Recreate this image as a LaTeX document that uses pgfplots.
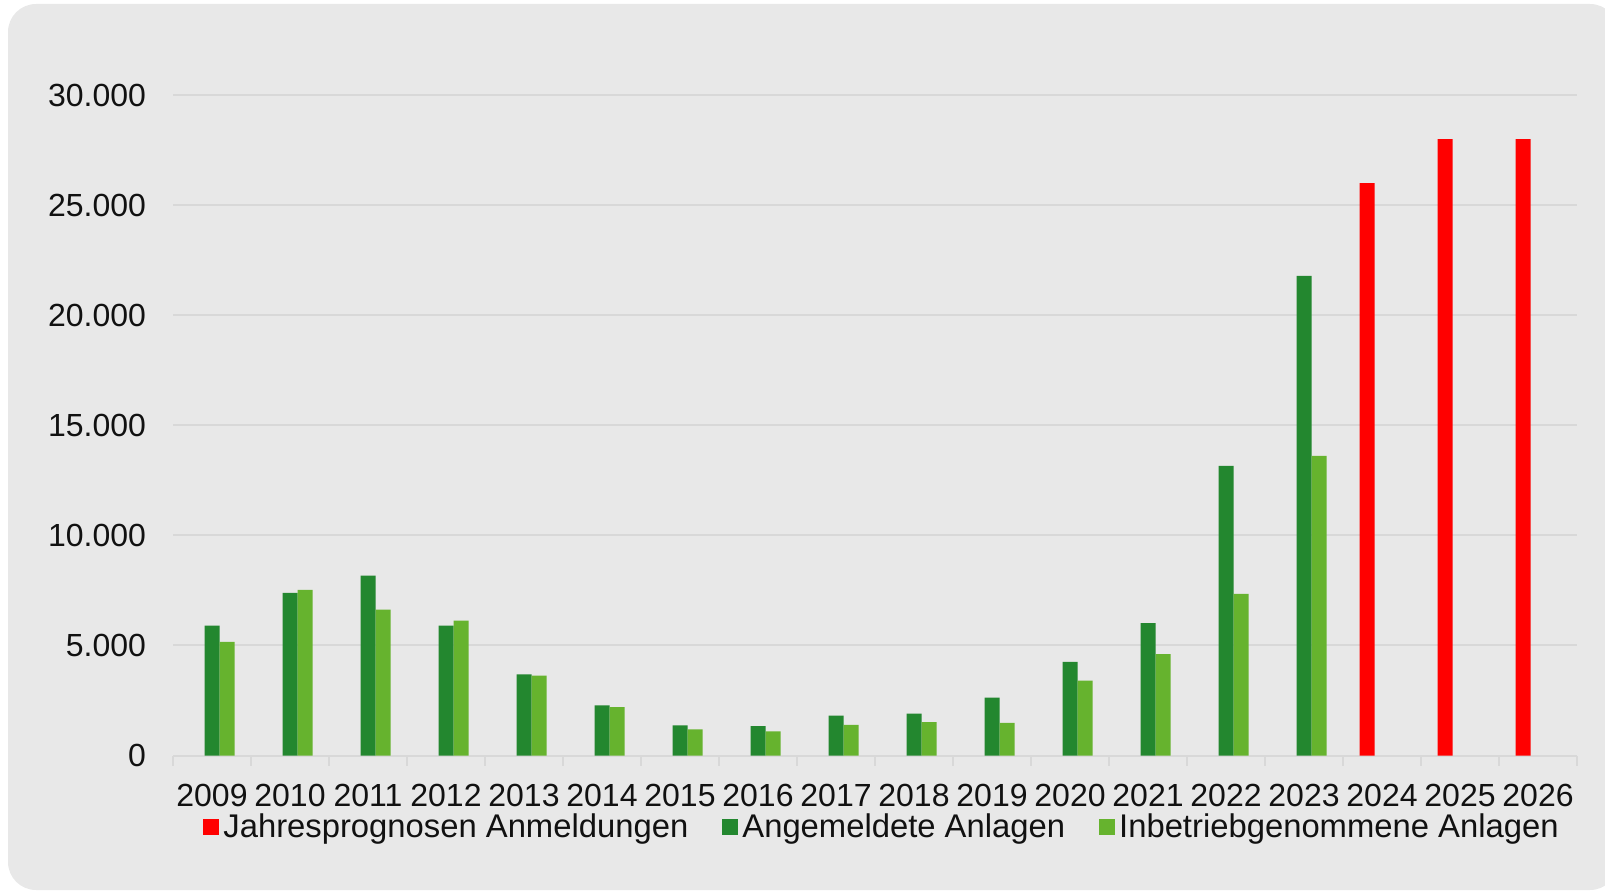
\documentclass[border=0pt]{standalone}
\usepackage{fontspec}
\setmainfont{Liberation Sans}
\usepackage{pgfplots}
\pgfplotsset{compat=1.18}
\definecolor{bg}{HTML}{E8E8E8}
\definecolor{gridc}{HTML}{D8D8D8}
\definecolor{dkgreen}{HTML}{23872F}
\definecolor{ltgreen}{HTML}{66B32E}
\definecolor{fcred}{HTML}{FF0000}
\definecolor{txt}{HTML}{111111}
\pgfplotsset{sqlegend/.style={legend image code/.code={\draw[##1,draw=none] (0pt,-4pt) rectangle (8pt,4pt);}}}
\begin{document}
\begin{tikzpicture}
\useasboundingbox (0,0) rectangle (802.5pt,445.5pt);
\begin{scope}
\clip (0,0) rectangle (802.5pt,445.5pt);
\fill[bg,rounded corners=14pt] (4pt,0.5pt) rectangle (809pt,443.5pt);
\end{scope}
\begin{axis}[
  at={(86.5pt,67.75pt)}, anchor=south west,
  scale only axis, width=702pt, height=330.25pt,
  xmin=-0.5, xmax=17.5, ymin=0, ymax=30000,
  ybar, bar width=7.5pt,
  axis line style={draw=none},
  xtick={0,...,17},
  xticklabels={2009,2010,2011,2012,2013,2014,2015,2016,2017,2018,2019,2020,2021,2022,2023,2024,2025,2026},
  minor xtick={-0.5,0.5,...,17.5},
  ytick={0,5000,...,30000},
  major tick length=0pt, minor tick length=5pt,
  tick align=outside, xtick pos=bottom, ytick pos=left,
  every tick/.style={gridc, line width=1pt},
  ymajorgrids, grid style={gridc, line width=1pt},
  scaled y ticks=false,
  /pgf/number format/.cd, 1000 sep={.}, assume math mode=true, /pgfplots/.cd,
  tick label style={font=\fontsize{16}{19}\selectfont, text=txt},
  xticklabel style={yshift=-10.6pt},
  yticklabel style={xshift=-10pt},
  legend columns=3,
  legend style={draw=none, fill=none, at={(0.5057,-0.108)}, anchor=center,
    font=\fontsize{16.4}{19}\selectfont, text=txt,
    /tikz/every even column/.append style={column sep=15pt}},
]
\addplot[fill=fcred, draw=none, bar shift=-7.5pt, sqlegend] coordinates {
 (15,26000) (16,28000) (17,28000)};
\addplot[fill=dkgreen, draw=none, bar shift=0pt, sqlegend] coordinates {
 (0,5900) (1,7390) (2,8170) (3,5900) (4,3690) (5,2280) (6,1370) (7,1340)
 (8,1810) (9,1900) (10,2630) (11,4250) (12,6010) (13,13160) (14,21780)};
\addplot[fill=ltgreen, draw=none, bar shift=7.5pt, sqlegend] coordinates {
 (0,5160) (1,7520) (2,6630) (3,6130) (4,3630) (5,2200) (6,1190) (7,1100)
 (8,1390) (9,1520) (10,1480) (11,3400) (12,4600) (13,7340) (14,13610)};
\legend{Jahresprognosen Anmeldungen, Angemeldete Anlagen, Inbetriebgenommene Anlagen}
\end{axis}
\end{tikzpicture}
\end{document}
